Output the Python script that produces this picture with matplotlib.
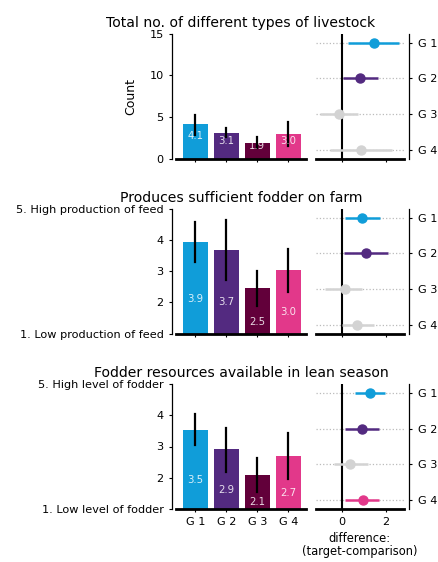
import matplotlib
matplotlib.use("Agg")
import matplotlib.pyplot as plt
import numpy as np

groups = ["G 1", "G 2", "G 3", "G 4"]
colors = ["#109dd9", "#532a80", "#62003a", "#e2388a"]
grey = "#d3d3d3"

titles = [
    "Total no. of different types of livestock",
    "Produces sufficient fodder on farm",
    "Fodder resources available in lean season",
]

# group means with bootstrap CI
means = [
    [4.14, 3.14, 1.94, 2.96],
    [3.92, 3.68, 2.46, 3.04],
    [3.54, 2.91, 2.10, 2.71],
]
ci_low = [
    [2.85, 2.57, 1.25, 1.56],
    [3.28, 2.73, 1.90, 2.34],
    [3.04, 2.18, 1.56, 1.97],
]
ci_high = [
    [5.24, 3.65, 2.57, 4.37],
    [4.58, 4.64, 3.01, 3.72],
    [4.05, 3.60, 2.62, 3.43],
]

# difference target - comparison, with CI
diff = [
    [1.43, 0.82, -0.15, 0.85],
    [0.92, 1.09, 0.12, 0.68],
    [1.27, 0.92, 0.35, 0.94],
]
diff_low = [
    [0.26, 0.03, -1.00, -0.58],
    [0.14, 0.09, -0.78, -0.01],
    [0.59, 0.14, -0.40, 0.14],
]
diff_high = [
    [2.60, 1.65, 0.70, 2.26],
    [1.70, 2.09, 0.90, 1.45],
    [1.95, 1.68, 1.15, 1.68],
]

ylims = [(0, 15), (1, 5), (1, 5)]
yticks = [[0, 5, 10, 15], [1, 2, 3, 4, 5], [1, 2, 3, 4, 5]]
yticklabels = [
    ["0", "5", "10", "15"],
    ["1. Low production of feed", "2", "3", "4", "5. High production of feed"],
    ["1. Low level of fodder", "2", "3", "4", "5. High level of fodder"],
]

W, H = 438, 562
fig = plt.figure(figsize=(W / 100, H / 100), dpi=100)
plt.rcParams["font.family"] = "DejaVu Sans"
tfs = 8.1

tops = [33.7, 208.7, 384.0]
ax_h = 125

x = np.arange(len(groups))
for i in range(3):
    bottom = 1 - (tops[i] + ax_h) / H
    ax = fig.add_axes([176 / W, bottom, 130 / W, ax_h / H])
    dx = fig.add_axes([316 / W, bottom, 87.7 / W, ax_h / H])

    # bars with error lines
    m = np.array(means[i])
    ax.bar(x, m, width=0.8, color=colors)
    for j in range(len(groups)):
        ax.plot([x[j], x[j]], [ci_low[i][j], ci_high[i][j]], color="black", lw=1.6)
        ax.text(x[j], m[j] / 2, f"{m[j]:.1f}", ha="center", va="bottom",
                color="white", alpha=0.85, fontsize=7.3)
    ax.set_xlim(-0.62, 3.57)
    ax.set_ylim(*ylims[i])
    ax.tick_params(axis="x", length=2.5, width=0.8, labelsize=tfs)
    ax.tick_params(axis="y", length=2.5, width=0.8, pad=3.5, labelsize=tfs)
    ax.set_yticks(yticks[i])
    ax.set_yticklabels(yticklabels[i])
    ax.set_xticks(x)
    if i == 2:
        ax.set_xticklabels(groups)
    else:
        ax.set_xticklabels([])
    for s in ["top", "right"]:
        ax.spines[s].set_visible(False)
    ax.spines["left"].set_position(("outward", 3))
    ax.spines["left"].set_linewidth(0.9)
    ax.spines["bottom"].set_linewidth(2)
    ax.set_title(titles[i], fontsize=10.1, pad=5)
    if i == 0:
        ax.set_ylabel("Count", fontsize=9)
        ax.yaxis.set_label_coords(-0.295, 0.5)

    # difference panel
    dx.axvline(0, color="black", lw=1.5, zorder=1)
    for j in range(len(groups)):
        dx.axhline(j, color="#bbbbbb", lw=0.9, ls=":", zorder=0)
        c = colors[j] if diff_low[i][j] > 0 else grey
        dx.plot([diff_low[i][j], diff_high[i][j]], [j, j], color=c, lw=1.8, zorder=2,
                solid_capstyle="butt")
        dx.plot(diff[i][j], j, "o", color=c, ms=6.5, zorder=3)
    dx.set_xlim(-1.2, 2.8)
    dx.set_ylim(3.25, -0.25)
    dx.yaxis.tick_right()
    dx.tick_params(axis="x", length=2.5, width=0.8, labelsize=tfs)
    dx.tick_params(axis="y", length=2.2, width=0.8, pad=4, labelsize=tfs)
    dx.set_xticks([0, 2])
    if i == 2:
        dx.set_xticklabels(["0", "2"])
        dx.set_xlabel("difference:\n(target-comparison)", fontsize=8.3, labelpad=3,
                      linespacing=1.05)
    else:
        dx.set_xticklabels([])
    dx.set_yticks(x)
    dx.set_yticklabels(groups)
    for s in ["top", "left"]:
        dx.spines[s].set_visible(False)
    dx.spines["right"].set_position(("outward", 4))
    dx.spines["right"].set_linewidth(0.9)
    dx.spines["bottom"].set_linewidth(2)

fig.savefig("out.png", dpi=100)
